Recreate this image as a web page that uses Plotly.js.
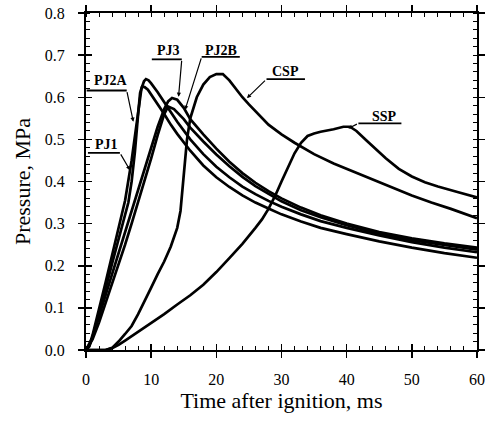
<!DOCTYPE html>
<html>
<head>
<meta charset="utf-8">
<script src="https://cdn.plot.ly/plotly-3.0.1.min.js"></script>
<style>html,body{margin:0;padding:0;background:#fff;}#chart{width:488px;height:422px;}</style>
</head>
<body>
<div id="chart"></div>
<script>
// ---- data ----
const seriesNames = ["PJ2A", "PJ1", "PJ3", "PJ2B", "CSP", "SSP"];

const PJ2A_t = [0,0.5,1,2,3,4,5,6,7,7.5,8,8.5,8.9,9.2,9.6,10,11,12,13,14,16,18,20,22,24,26,28,30,33,36,40,45,50,55,60];
const PJ2A_p = [0,0.01,0.035,0.095,0.16,0.225,0.29,0.355,0.45,0.51,0.57,0.62,0.638,0.643,0.64,0.633,0.612,0.59,0.565,0.542,0.5,0.465,0.435,0.41,0.388,0.37,0.354,0.34,0.322,0.306,0.29,0.272,0.256,0.243,0.232];

const PJ1_t = [0,0.5,1,2,3,4,5,6,6.5,7,7.5,8,8.3,8.6,9,9.5,10,11,12,13,14,16,18,20,22,24,26,28,30,33,36,40,45,50,55,60];
const PJ1_p = [0,0.008,0.03,0.085,0.145,0.205,0.265,0.32,0.35,0.4,0.47,0.56,0.61,0.625,0.624,0.618,0.607,0.585,0.56,0.535,0.513,0.473,0.438,0.41,0.387,0.367,0.35,0.336,0.322,0.305,0.29,0.275,0.258,0.243,0.23,0.219];

const PJ3_t = [0,1,2,3,4,5,6,7,8,9,10,11,12,12.6,13.2,14,15,16,18,20,22,24,26,28,30,33,36,40,45,50,55,60];
const PJ3_p = [0,0.03,0.08,0.13,0.18,0.23,0.28,0.33,0.38,0.43,0.48,0.53,0.572,0.59,0.598,0.594,0.575,0.548,0.512,0.478,0.447,0.42,0.397,0.377,0.36,0.338,0.32,0.3,0.28,0.265,0.253,0.243];

const PJ2B_t = [0,1,2,3,4,5,6,7,8,9,10,11,12,12.6,13.5,15,16,18,20,22,24,26,28,30,33,36,40,45,50,55,60];
const PJ2B_p = [0,0.025,0.065,0.11,0.155,0.2,0.25,0.3,0.35,0.4,0.455,0.51,0.56,0.578,0.572,0.548,0.528,0.495,0.464,0.436,0.411,0.389,0.37,0.353,0.332,0.315,0.296,0.276,0.261,0.249,0.238];

const CSP_t = [0,3,4,5,6,7,8,9,10,11,12,13,14,14.5,15,15.5,16,17,18,19,20,21,22,23,24,25,26,28,30,32,35,38,41,44,47,50,53,56,60];
const CSP_p = [0,0,0.005,0.02,0.038,0.057,0.085,0.115,0.148,0.18,0.21,0.245,0.29,0.33,0.42,0.5,0.55,0.6,0.63,0.648,0.655,0.655,0.64,0.62,0.6,0.583,0.567,0.535,0.512,0.492,0.465,0.443,0.424,0.405,0.385,0.367,0.35,0.335,0.313];

const SSP_t = [0,3,4,5,6,8,10,12,14,16,18,20,22,24,26,27,28,29,30,31,32,33,34,35,36,38,39.5,40.5,41.5,43,44,46,48,50,52,54,57,60];
const SSP_p = [0,0,0.004,0.012,0.022,0.043,0.063,0.085,0.108,0.13,0.155,0.185,0.218,0.252,0.29,0.31,0.335,0.365,0.4,0.435,0.467,0.492,0.508,0.514,0.518,0.524,0.53,0.53,0.52,0.498,0.483,0.455,0.43,0.412,0.398,0.388,0.375,0.362];

const xTickVals = [0,10,20,30,40,50,60];
const yTickVals = [0,0.1,0.2,0.3,0.4,0.5,0.6,0.7,0.8];
const yTickText = ["0.0","0.1","0.2","0.3","0.4","0.5","0.6","0.7","0.8"];

// label placement: [name, textX, textY, underlineX0, underlineX1, underlineY, tipX, tipY]
const labelPos = [
  ["PJ2A", 0.9, 0.639, 0.1, 6.25, 0.616, 7.26, 0.542],
  ["PJ1", 1.1, 0.489, 0.3, 5.2, 0.468, 6.75, 0.427],
  ["PJ3", 10.6, 0.712, 10.1, 14.7, 0.69, 14.2, 0.601],
  ["PJ2B", 17.95, 0.712, 17.75, 23.6, 0.696, 15.2, 0.57],
  ["CSP", 28.2, 0.661, 27.7, 33.6, 0.643, 24.7, 0.598],
  ["SSP", 43.6, 0.554, 41.8, 48.4, 0.538, 40.25, 0.526]
];

// ---- build ----
const serT = [PJ2A_t, PJ1_t, PJ3_t, PJ2B_t, CSP_t, SSP_t];
const serP = [PJ2A_p, PJ1_p, PJ3_p, PJ2B_p, CSP_p, SSP_p];
const traces = seriesNames.map((n, i) => ({
  x: serT[i], y: serP[i], name: n, type: 'scatter', mode: 'lines',
  line: {color: '#000', width: 2.7}, showlegend: false, hoverinfo: 'skip'
}));
traces.push({x: [], y: [], xaxis: 'x2', yaxis: 'y2', showlegend: false, hoverinfo: 'skip'});

const serif = '"Liberation Serif", "Times New Roman", Times, serif';
const annotations = [];
const shapes = [];
labelPos.forEach(l => {
  annotations.push({x: l[1], y: l[2], xref: 'x', yref: 'y', text: '<b>' + l[0] + '</b>',
    showarrow: false, xanchor: 'left', yanchor: 'middle', font: {family: serif, size: 14, color: '#000'}});
  shapes.push({type: 'line', xref: 'x', yref: 'y', x0: l[3], x1: l[4], y0: l[5], y1: l[5], line: {color: '#000', width: 1.8}});
  const startX = (l[0] === 'PJ2B' || l[0] === 'CSP' || l[0] === 'SSP') ? l[3] : l[4];
  annotations.push({x: l[6], y: l[7], ax: startX, ay: l[5], xref: 'x', yref: 'y', axref: 'x', ayref: 'y',
    text: '', showarrow: true, arrowhead: 2, arrowsize: 0.7, arrowwidth: 1.2, arrowcolor: '#000', standoff: 0});
});

const axisCommon = {
  showline: true, linecolor: '#000', linewidth: 2, mirror: 'allticks',
  showgrid: false, zeroline: false, ticks: 'outside', ticklen: 6, tickwidth: 1.5, tickcolor: '#000',
  tickfont: {family: serif, size: 16, color: '#000'}
};

const layout = {
  width: 488, height: 422,
  margin: {l: 86, r: 11, t: 13, b: 72},
  paper_bgcolor: '#fff', plot_bgcolor: '#fff',
  xaxis: Object.assign({}, axisCommon, {
    range: [0, 60], tickvals: xTickVals, ticktext: xTickVals.map(String),
    minor: {dtick: 2, ticks: 'inside', ticklen: 4, tickwidth: 1, tickcolor: '#000'},
    ticklabelstandoff: 8,
    title: {text: 'Time after ignition, ms', font: {family: serif, size: 22, color: '#000'}, standoff: 4}
  }),
  yaxis: Object.assign({}, axisCommon, {
    range: [0, 0.8], tickvals: yTickVals, ticktext: yTickText,
    minor: {dtick: 0.02, ticks: 'inside', ticklen: 4, tickwidth: 1, tickcolor: '#000'},
    ticklabelstandoff: 10,
    title: {text: 'Pressure, MPa', font: {family: serif, size: 22, color: '#000'}, standoff: 8}
  }),
  xaxis2: {overlaying: 'x', range: [0, 60], side: 'bottom', tickvals: xTickVals, ticks: 'inside', ticklen: 6,
    tickwidth: 1.5, tickcolor: '#000', showticklabels: false, showgrid: false, zeroline: false, showline: false},
  yaxis2: {overlaying: 'y', range: [0, 0.8], side: 'left', tickvals: yTickVals, ticks: 'inside', ticklen: 6,
    tickwidth: 1.5, tickcolor: '#000', showticklabels: false, showgrid: false, zeroline: false, showline: false},
  annotations: annotations,
  shapes: shapes
};

Plotly.newPlot('chart', traces, layout, {staticPlot: true, displayModeBar: false});
</script>
</body>
</html>
